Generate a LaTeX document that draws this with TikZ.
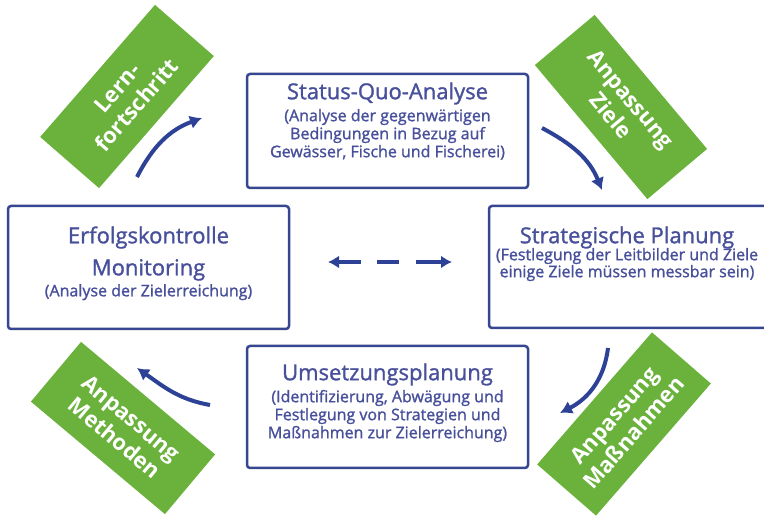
\documentclass[tikz,border=0pt]{standalone}
\usepackage{fontspec}
\setmainfont{Open Sans}
\newfontfamily\boxfam{Open Sans}[BoldFont={Open Sans}, BoldFeatures={FakeBold=1.3}]
\usetikzlibrary{arrows.meta}
\definecolor{boxblue}{RGB}{55,70,145}
\definecolor{txtblue}{RGB}{72,80,155}
\definecolor{arrblue}{RGB}{45,66,150}
\definecolor{lgreen}{RGB}{106,178,60}
\newcommand\ttlfont{\fontsize{22}{24}\selectfont}
\begin{document}
\lineskiplimit=-100pt\relax
\begin{tikzpicture}[x=1pt,y=1pt,
  box/.style={draw=boxblue, line width=2.5pt, rounded corners=3pt, fill=white, inner sep=0pt},
  boxtext/.style={text=txtblue, align=center, inner sep=0pt, anchor=north,
    font=\boxfam\bfseries\fontsize{16}{18}\selectfont},
  tag/.style={fill=lgreen, minimum width=175pt, minimum height=78pt, inner sep=0pt,
    text=white, align=center, font=\bfseries\fontsize{22}{26}\selectfont},
  flow/.style={draw=arrblue, line width=4pt, -{Latex[length=12pt,width=14pt]}},
  dflow/.style={draw=arrblue, line width=4.5pt,
    {Latex[length=11pt,width=13pt]}-{Latex[length=11pt,width=13pt]},
    dash pattern=on 23pt off 16pt on 22pt off 17pt on 30pt},
]
\useasboundingbox (0,0) rectangle (764,516);

% green tags
\node[tag, rotate=49]  (lern)  at (127,419.5) {Lern-\\fortschritt};
\node[tag, rotate=-50] (ziele) at (621,409)   {Anpassung\\Ziele};
\node[tag, rotate=-40] (meth)  at (123,88)    {Anpassung\\Methoden};
\node[tag, rotate=49]  (mass)  at (624,92)    {Anpassung\\Maßnahmen};

% boxes
\node[box, minimum width=281pt, minimum height=114pt] (sq)  at (387.5,385)   {};
\node[box, minimum width=281pt, minimum height=123pt] (ek)  at (148.5,248.5) {};
\node[box, minimum width=279pt, minimum height=122pt] (sp)  at (628.5,249)   {};
\node[box, minimum width=281pt, minimum height=122pt] (up)  at (387.5,109)   {};

% texts
\node[boxtext] (sqt) at (387.5,433.7)
  {{\ttlfont Status-Quo-Analyse}\\[4pt](Analyse der gegenwärtigen\\Bedingungen in Bezug auf\\Gewässer, Fische und Fischerei)};
\node[boxtext] (ekt) at (148.5,289.7)
  {{\ttlfont Erfolgskontrolle}\\[14pt]{\ttlfont Monitoring}\\[3pt](Analyse der Zielerreichung)};
\node[boxtext, font=\boxfam\bfseries\fontsize{16}{17}\selectfont] (spt) at (627,289.7)
  {{\ttlfont Strategische Planung}\\(Festlegung der Leitbilder und Ziele\\einige Ziele müssen messbar sein)};
\node[boxtext] (upt) at (387.5,152.7)
  {{\ttlfont Umsetzungsplanung}\\[4pt](Identifizierung, Abwägung und\\Festlegung von Strategien und\\Maßnahmen zur Zielerreichung)};

% arrow end points
\coordinate (a1s) at (137,339); \coordinate (a1e) at (202,398);
\coordinate (a2s) at (542,388); \coordinate (a2e) at (602,326);
\coordinate (a3s) at (608,168); \coordinate (a3e) at (560,103);
\coordinate (a4s) at (210,111); \coordinate (a4e) at (137,148);
\coordinate (dl) at (328,254); \coordinate (dr) at (452,254);

\draw[flow] (a1s) to[out=63,in=200] (a1e);
\draw[flow] (a2s) to[out=-28,in=112] (a2e);
\draw[flow] (a3s) to[out=-97,in=27] (a3e);
\draw[flow] (a4s) to[out=170,in=-35] (a4e);
\draw[dflow] (dl) -- (dr);
\end{tikzpicture}
\end{document}
